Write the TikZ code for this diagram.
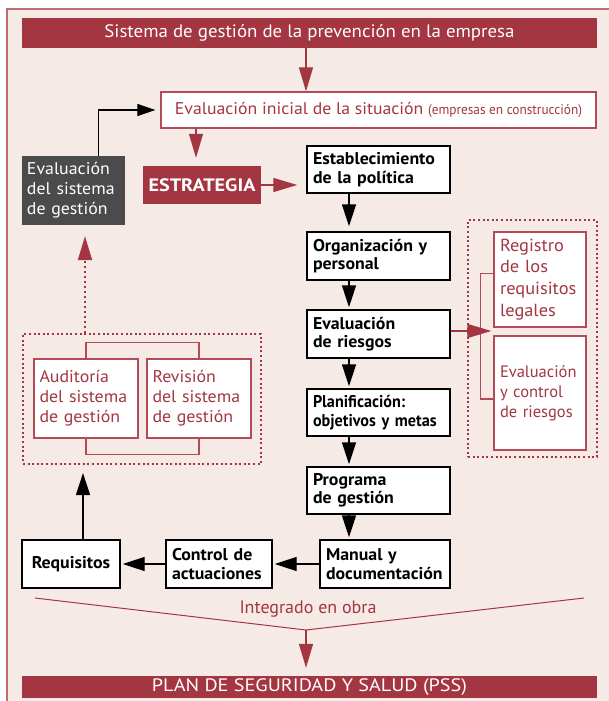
\documentclass[tikz,border=0pt]{standalone}
\usepackage{fontspec}
\setmainfont{PT Sans}
\newfontfamily\fA[FakeStretch=1.05]{PT Sans}
\newfontfamily\fB[FakeStretch=1.12]{PT Sans}
\newfontfamily\fC[FakeStretch=0.95]{PT Sans}
\usetikzlibrary{arrows.meta}
\definecolor{wine}{HTML}{A33641}
\definecolor{bgpink}{HTML}{F6EAE6}
\definecolor{frameline}{HTML}{C26B73}
\definecolor{darkbox}{HTML}{4B4B4B}
\definecolor{boxred}{HTML}{B24B56}
\begin{document}
\begin{tikzpicture}[x=1pt,y=-1pt,
  blk/.style={draw=black, line width=1.4pt, fill=white, inner xsep=6pt, inner ysep=0pt, align=left, font=\fA\bfseries\fontsize{17}{18.5}\selectfont, text=black},
  redbox/.style={draw=boxred, line width=1.3pt, fill=white, inner xsep=6pt, inner ysep=0pt, align=left, text=wine, font=\fA\fontsize{17}{20}\selectfont},
  banner/.style={fill=wine, text=white, inner sep=0pt},
  blkarrow/.style={line width=1.4pt, -{Triangle[length=22pt,width=14pt]}},
  redarrow/.style={draw=wine, line width=1.3pt, -{Triangle[length=24pt,width=14pt]}},
  dotbox/.style={draw=wine, line width=2.2pt, dash pattern=on 2pt off 2.6pt},
]
\useasboundingbox (0,0) rectangle (608,701);
\fill[white] (0,0) rectangle (608,701);
\filldraw[fill=bgpink, draw=frameline, line width=1.5pt] (7,9) rectangle (640,740);

% banners
\node[banner, minimum width=575pt, minimum height=30pt, font=\fA\fontsize{18}{20}\selectfont] (top) at (309.5,33) {Sistema de gestión de la prevención en la empresa};
\node[banner, minimum width=575pt, minimum height=22pt, font=\fB\fontsize{18}{20}\selectfont] (pss) at (309.5,687) {PLAN DE SEGURIDAD Y SALUD (PSS)};

% initial evaluation
\node[redbox, minimum width=435pt, minimum height=36pt, align=center] (ini) at (378.5,110)
  {{\fontsize{16.9}{20}\selectfont Evaluación inicial de la situación} {\fC\fontsize{14}{17}\selectfont (empresas en construcción)}};

% strategy
\node[banner, minimum width=118pt, minimum height=38pt, font=\fB\bfseries\fontsize{18}{20}\selectfont] (estr) at (202,185) {ESTRATEGIA};

% dark box
\node[fill=darkbox, text=white, minimum width=103pt, minimum height=69pt, text width=93pt, inner xsep=5pt, inner ysep=0pt, align=left, font=\fA\fontsize{17}{20}\selectfont] (evs) at (73.5,190.5) {Evaluación\\del sistema\\de gestión};

% main column
\node[blk, minimum width=143pt, minimum height=47pt, text width=131pt] (est) at (378.5,169.5) {Establecimiento\\de la política};
\node[blk, minimum width=143pt, minimum height=48pt, text width=131pt] (org) at (378.5,256) {Organización y\\personal};
\node[blk, minimum width=143pt, minimum height=48pt, text width=131pt] (eva) at (378.5,334) {Evaluación\\de riesgos};
\node[blk, minimum width=143pt, minimum height=47pt, text width=131pt, font=\fC\bfseries\fontsize{17}{18.5}\selectfont] (pla) at (378.5,412.5) {Planificación:\\\mbox{objetivos y metas}};
\node[blk, minimum width=143pt, minimum height=47pt, text width=131pt] (pro) at (378.5,490.5) {Programa\\de gestión};
\node[blk, minimum width=130pt, minimum height=48pt, text width=118pt] (man) at (385,564) {Manual y\\\mbox{documentación}};
\node[blk, minimum width=106pt, minimum height=48pt, text width=94pt] (ctl) at (219,564) {Control de\\actuaciones};
\node[blk, minimum width=98pt, minimum height=48pt, text width=86pt, align=center] (req) at (71,564) {Requisitos};

% left dotted group
\node[dotbox, minimum width=238pt, minimum height=130pt] (ldot) at (142,399) {};
\node[redbox, minimum width=104pt, minimum height=79pt, text width=93pt, inner xsep=5.5pt] (aud) at (86,398.5) {Auditoría\\del sistema\\de gestión};
\node[redbox, minimum width=104pt, minimum height=79pt, text width=93pt, inner xsep=5.5pt] (rev) at (199,398.5) {Revisión\\del sistema\\de gestión};
\draw[boxred, line width=1.3pt] (aud.north) -- ++(0,-16) -| (rev.north);
\draw[boxred, line width=1.3pt] (aud.south) -- ++(0,16) -| (rev.south);

% right dotted group
\node[dotbox, minimum width=129pt, minimum height=237pt] (rdot) at (532.5,338.5) {};
\node[redbox, minimum width=92pt, minimum height=95pt, text width=80pt, font=\fA\fontsize{17.5}{21.7}\selectfont] (reg) at (540,279.5) {Registro\\de los\\requisitos\\legales};
\node[redbox, minimum width=92pt, minimum height=114pt, text width=80pt, font=\fontsize{16.5}{20}\selectfont] (evc) at (540,393) {Evaluación\\y control\\de riesgos};
\draw[boxred, line width=1.3pt] ([yshift=6pt]reg.west) -- ++(-13,0) |- ([yshift=-6pt]evc.west);

% connectors
\coordinate (ax) at (349,0);
\draw[redarrow] ([xshift=-3.5pt]top.south) -- ([xshift=-3.5pt]top.south |- ini.north);
\draw[redarrow, shorten >=8pt] ([xshift=-6pt]estr.north |- ini.south) -- ([xshift=-6pt]estr.north);
\draw[redarrow, shorten >=9pt] (estr.east) -- (estr.east -| est.west);
\draw[line width=1.2pt, -{Triangle[length=18pt,width=12pt]}, shorten >=5pt] ([xshift=25pt]evs.north) |- (ini.west);
\draw[blkarrow, shorten >=5pt] (est.south -| ax) -- (org.north -| ax);
\draw[blkarrow, shorten >=2pt] (org.south -| ax) -- (eva.north -| ax);
\draw[blkarrow, shorten >=2pt] (eva.south -| ax) -- (pla.north -| ax);
\draw[blkarrow, shorten >=2pt] (pla.south -| ax) -- (pro.north -| ax);
\draw[blkarrow, shorten >=2pt] (pro.south -| ax) -- (man.north -| ax);
\draw[blkarrow, shorten >=2pt] (man.west) -- (ctl.east);
\draw[blkarrow, shorten >=2pt] (ctl.west) -- (req.east);
\draw[blkarrow, shorten >=8pt] ([xshift=12pt]req.north) -- ([xshift=12pt]req.north |- ldot.south);
\coordinate (dx) at ([xshift=11.5pt]evs.south);
\draw[draw=wine, line width=2pt, dash pattern=on 2pt off 3pt, -{Triangle[length=24pt,width=14pt]}, shorten >=11pt] (ldot.north -| dx) -- (dx);
\draw[redarrow, shorten >=2pt] ([yshift=3pt]eva.east) -- ([yshift=3pt]eva.east -| reg.west);

% funnel
\coordinate (fl) at (35,598);
\coordinate (fr) at (584,598);
\coordinate (fm) at (306,630);
\draw[wine, line width=1pt] (fl) -- (fm) -- (fr);
\node[text=wine, font=\fontsize{18}{20}\selectfont, inner sep=0pt] (intg) at (308,609) {Integrado en obra};
\draw[redarrow, shorten >=8pt] (fm) -- (fm |- pss.north);
\end{tikzpicture}
\end{document}
